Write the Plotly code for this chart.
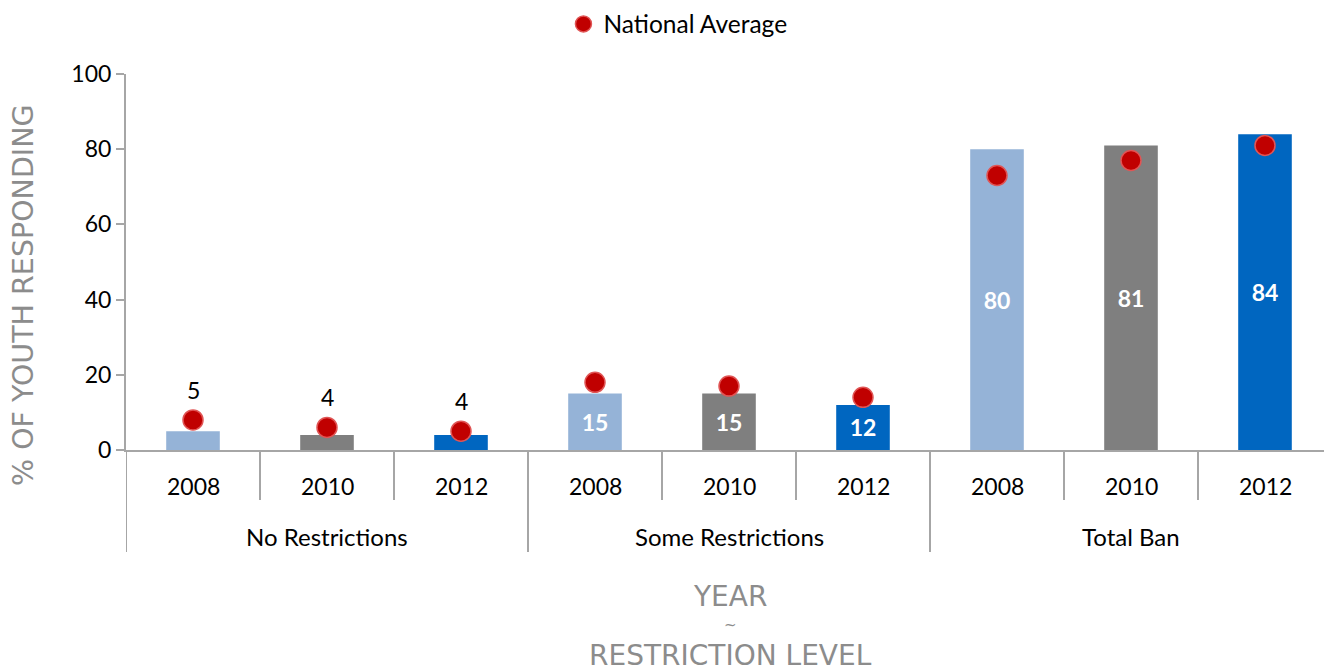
import plotly.graph_objects as go

groups = ["No Restrictions"] * 3 + ["Some Restrictions"] * 3 + ["Total Ban"] * 3
years = ["2008", "2010", "2012"] * 3
values = [5, 4, 4, 15, 15, 12, 80, 81, 84]
national_avg = [8, 6, 5, 18, 17, 14, 73, 77, 81]
group_names = ["No Restrictions", "Some Restrictions", "Total Ban"]
year_colors = {"2008": "#95B3D7", "2010": "#7F7F7F", "2012": "#0066C0"}

AXIS_GRAY = "#A6A6A6"
TITLE_GRAY = "#8C8C8C"
FIG_W, FIG_H = 1324, 664
M_L, M_T, PLOT_H = 118, 66, 376
PLOT_W = FIG_W - M_L

xpos = list(range(len(values)))
bar_colors = [year_colors[y] for y in years]
inside = [g != "No Restrictions" for g in groups]
bar_text = [str(v) if ins else "" for v, ins in zip(values, inside)]

fig = go.Figure()
fig.add_trace(go.Bar(
    x=xpos, y=values,
    marker=dict(color=bar_colors, line=dict(width=0)),
    width=0.4,
    text=bar_text, textposition="inside", insidetextanchor="middle",
    textfont=dict(family="Lato", size=23, color="white", weight="bold"),
    textangle=0, constraintext="none",
    showlegend=False, hoverinfo="skip",
))
fig.add_trace(go.Scatter(
    x=xpos, y=national_avg, mode="markers",
    name="National Average",
    marker=dict(color="#C00000", size=20, line=dict(color="#E05555", width=1.5)),
))

annotations = []
shapes = []
# outside data labels for the small bars
for i, (g, v, n) in enumerate(zip(groups, values, national_avg)):
    if g == "No Restrictions":
        annotations.append(dict(
            x=i, xref="x", y=n, yref="y", text=str(v), showarrow=False,
            yshift=30, font=dict(family="Lato", size=23, color="black"),
        ))
# year labels
for i, yr in enumerate(years):
    annotations.append(dict(
        x=i, xref="x", y=0, yref="paper", yanchor="middle", text=yr,
        showarrow=False, yshift=-36,
        font=dict(family="Lato", size=23, color="black"),
    ))
# group labels
for k, gname in enumerate(group_names):
    annotations.append(dict(
        x=3 * k + 1, xref="x", y=0, yref="paper", yanchor="middle", text=gname,
        showarrow=False, yshift=-86,
        font=dict(family="Lato", size=24, color="black"),
    ))
# dividers between years
for i in range(len(values) - 1):
    if (i + 1) % 3 != 0:
        shapes.append(dict(type="line", xref="x", yref="paper",
                           x0=i + 0.5, x1=i + 0.5, y0=0, y1=-50 / PLOT_H,
                           line=dict(color=AXIS_GRAY, width=2)))
# group dividers
for b in [-0.5, 2.5, 5.5, 8.5]:
    shapes.append(dict(type="line", xref="x", yref="paper",
                       x0=b, x1=b, y0=0, y1=-102 / PLOT_H,
                       line=dict(color=AXIS_GRAY, width=2)))

# axis titles
annotations.append(dict(
    x=-103 / PLOT_W, xref="paper", xanchor="center", y=0.5 - 33 / PLOT_H, yref="paper",
    yanchor="middle", text="% OF YOUTH RESPONDING", textangle=-90, showarrow=False,
    font=dict(family="DejaVu Sans", size=28.5, color=TITLE_GRAY),
))
xt_center = (730 - 8 - M_L) / PLOT_W
for txt, shift, size in [("YEAR", -146, 28), ("~", -175, 15), ("RESTRICTION LEVEL", -205, 28)]:
    annotations.append(dict(
        x=xt_center, xref="paper", xanchor="center", y=0, yref="paper",
        yanchor="middle", yshift=shift, text=txt, showarrow=False,
        font=dict(family="DejaVu Sans", size=size, color=TITLE_GRAY),
    ))

fig.update_layout(
    width=FIG_W, height=FIG_H,
    margin=dict(l=M_L, r=0, t=M_T, b=FIG_H - M_T - PLOT_H, autoexpand=False),
    paper_bgcolor="white", plot_bgcolor="white",
    font=dict(family="Lato", size=23, color="black"),
    legend=dict(orientation="h", x=0.506, xref="container", xanchor="center",
                y=1 - 16 / FIG_H, yref="container", yanchor="middle",
                font=dict(family="Lato", size=24.5, color="black"),
                itemsizing="trace", itemwidth=30),
    annotations=annotations,
    shapes=shapes,
)
fig.update_xaxes(
    range=[-0.5, 8.5],
    showline=True, linecolor=AXIS_GRAY, linewidth=2,
    showticklabels=False, ticks="", showgrid=False, zeroline=False,
    automargin=False,
)
fig.update_yaxes(
    range=[0, 100], dtick=20,
    showline=True, linecolor=AXIS_GRAY, linewidth=2,
    ticks="outside", ticklen=8, tickcolor=AXIS_GRAY, tickwidth=2,
    showgrid=False, zeroline=False, automargin=False,
    tickfont=dict(family="Lato", size=23, color="black"),
)

fig.write_html("out.html")
